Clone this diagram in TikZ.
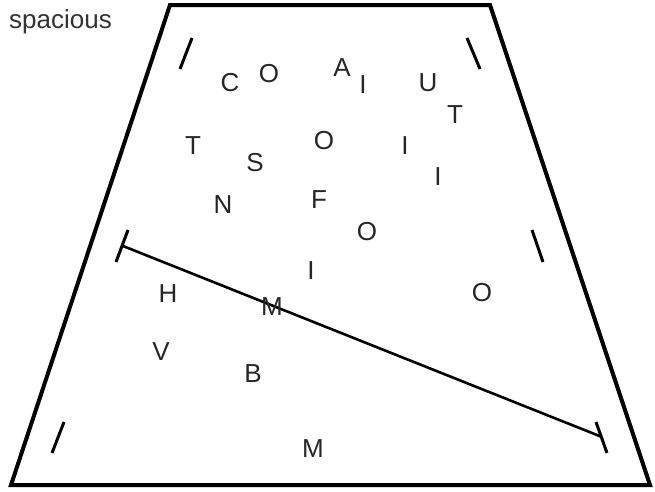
\documentclass[tikz,border=0pt]{standalone}
\usepackage{fontspec}
\setmainfont{Liberation Sans}
\begin{document}
\begin{tikzpicture}[x=1pt,y=-1pt,
  lbl/.style={font=\fontsize{26}{26}\selectfont, text=black!85, inner sep=0pt, text height=18.6pt, text depth=0pt, anchor=center},
  sideline/.style={line width=4pt, line join=miter},
  tickline/.style={line width=3pt},
  mainline/.style={line width=2.6pt}]
\useasboundingbox (0,0) rectangle (655,491);
% trapezoid
\coordinate (tl) at (170,5);
\coordinate (tr) at (490,5);
\coordinate (br) at (650,485);
\coordinate (bl) at (11,485);
\draw[sideline] (tl) -- (tr) -- (br) -- (bl) -- cycle;
% ticks
\coordinate (t1a) at (192,38);  \coordinate (t1b) at (180,69);
\coordinate (t2a) at (467,38);  \coordinate (t2b) at (480,69);
\coordinate (t3a) at (128,230); \coordinate (t3b) at (116,262);
\coordinate (t4a) at (532,230); \coordinate (t4b) at (543,262);
\coordinate (t5a) at (64,422);  \coordinate (t5b) at (52,453);
\coordinate (t6a) at (596,422); \coordinate (t6b) at (607,453);
\draw[tickline] (t1a) -- (t1b);
\draw[tickline] (t2a) -- (t2b);
\draw[tickline] (t3a) -- (t3b);
\draw[tickline] (t4a) -- (t4b);
\draw[tickline] (t5a) -- (t5b);
\draw[tickline] (t6a) -- (t6b);
% diagonal line
\coordinate (la) at (123,246);
\coordinate (lb) at (602,437);
\draw[mainline] (la) -- (lb);
% title
\node[font=\fontsize{26}{26}\selectfont, text=black!80, inner sep=0pt, anchor=base west] (title) at (9,28) {spacious};
% letters
\node[lbl] (c1) at (230,82) {C};
\node[lbl] (o1) at (269,73) {O};
\node[lbl] (a1) at (342,67) {A};
\node[lbl] (i1) at (363,84) {I};
\node[lbl] (u1) at (428,82) {U};
\node[lbl] (t1) at (455,114) {T};
\node[lbl] (t2) at (193,145) {T};
\node[lbl] (s1) at (255,162) {S};
\node[lbl] (o2) at (324,140) {O};
\node[lbl] (i2) at (405,145) {I};
\node[lbl] (i3) at (438,176) {I};
\node[lbl] (n1) at (223,204) {N};
\node[lbl] (f1) at (319,199) {F};
\node[lbl] (o3) at (367,231) {O};
\node[lbl] (i4) at (311,270) {I};
\node[lbl] (h1) at (168,293) {H};
\node[lbl] (m1) at (272,306) {M};
\node[lbl] (o4) at (482,292) {O};
\node[lbl] (v1) at (161,351) {V};
\node[lbl] (b1) at (253,373) {B};
\node[lbl] (m2) at (313,448) {M};
\end{tikzpicture}
\end{document}
